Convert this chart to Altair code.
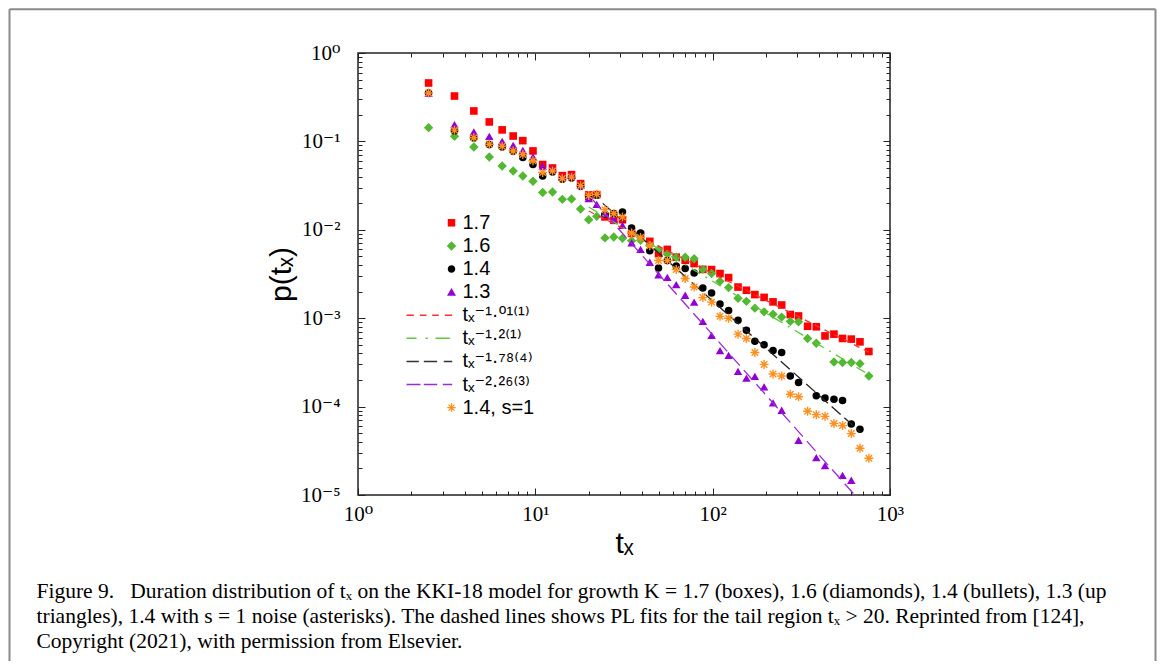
import math
import altair as alt
import pandas as pd

# ---------------- data ----------------
tx = [2.5, 3.5, 4.5, 5.5, 6.5, 7.5, 8.5, 9.7, 11, 12.5, 14.2, 16, 18, 20, 22.2, 24.7, 27.7,
      31, 34.9, 39.2, 44.2, 49.5, 55.5, 62.3, 70, 78.6, 88, 98.6, 110, 123, 139, 155, 173,
      195, 219, 245, 274, 305, 343, 384, 430, 483, 540, 605, 677, 760]

p_17 = [0.458, 0.326, 0.221, 0.166, 0.135, 0.115, 0.102, 0.078, 0.0547, 0.050,
        0.041, 0.0421, 0.0333, 0.0248, 0.0250, 0.0140, 0.0128, 0.0130, 0.0091, 0.0088,
        0.0074, 0.0054, 0.0060, 0.0049, 0.00452, 0.00415, 0.00357, 0.00355, 0.00320, 0.00288,
        0.00225, 0.00207, 0.00185, 0.00172, 0.00153, 0.00141, 0.00110, 0.00106, 0.00081, 0.00080,
        0.00063, 0.00066, 0.00059, 0.00058, 0.00054, 0.00042]

p_16 = [0.143, 0.114, 0.0865, 0.0666, 0.0527, 0.0462, 0.0406, 0.0354, 0.0264, 0.0268,
        0.0221, 0.0223, 0.0172, 0.0130, 0.0142, 0.0081, 0.0083, 0.0080, 0.0075, 0.0076,
        0.0067, 0.0060, 0.0053, 0.0049, 0.0049, 0.0047, 0.00357, 0.00320, 0.00261, 0.00222,
        0.00168, 0.00155, 0.00130, 0.00118, 0.00111, 0.00103, 0.00092, 0.00091, 0.00059, 0.00052,
        None, 0.00032, 0.000315, 0.000315, 0.000306, 0.000222]

p_14 = [0.353, 0.131, 0.109, 0.092, 0.0865, 0.0773, 0.0656, 0.0547, 0.0406, 0.0451,
        0.0373, 0.0385, 0.0310, 0.0231, 0.0246, 0.0150, 0.0153, 0.0159, 0.0105, 0.0092,
        0.0058, 0.0037, 0.0045, 0.0039, 0.00364, 0.00325, 0.00220, 0.00193, 0.00145, 0.00122,
        0.00095, 0.00073, 0.00055, 0.00050, 0.00043, 0.00041, 0.000222, 0.000187, None, 0.000133,
        0.000125, 0.000121, 0.000117, 0.0000636, 0.0000553, None]

p_13 = [0.353, 0.155, 0.128, 0.114, 0.100, 0.0903, 0.0793, 0.0667, 0.0523, 0.0492,
        0.0396, 0.0412, 0.0318, 0.0225, 0.0194, 0.0153, 0.0132, 0.0112, 0.0071, 0.0060,
        0.0043, 0.0031, 0.0029, 0.0024, 0.00182, 0.00152, 0.00092, 0.00064, 0.00043, 0.00038,
        0.00025, 0.00021, 0.00022, 0.000167, 0.000110, 0.000091, None, 0.0000416, None, 0.0000265,
        0.0000215, None, 0.0000167, 0.0000147, None, None]

p_14s = [0.353, 0.134, 0.110, 0.093, 0.088, 0.078, 0.071, 0.0604, 0.0444, 0.0463,
         0.0381, 0.0394, 0.0316, 0.0245, 0.0252, 0.0169, 0.0153, 0.0140, 0.0092, 0.0082,
         0.0066, 0.0045, 0.0045, 0.00355, 0.00281, 0.00225, 0.00171, 0.00152, 0.00105, 0.00100,
         0.00066, 0.00059, 0.00041, 0.00030, 0.000234, 0.000222, 0.000138, 0.000129, 0.0000885, 0.0000811,
         0.0000776, 0.0000643, 0.0000610, 0.0000495, 0.0000338, 0.0000260]

# power-law fit lines: end points
fit_red_x = [20, 760];  fit_red_y = [0.0163, 0.000413]
fit_grn_x = [20, 760];  fit_grn_y = [0.0181, 0.00023]
fit_blk_x = [24, 680];  fit_blk_y = [0.0199, 0.0000517]
fit_pur_x = [21, 632];  fit_pur_y = [0.022, 0.00001]

legend_entries = ["1.7", "1.6", "1.4", "1.3",
                  "t\u2093\u207b\u00b9\u00b7\u2070\u00b9\u207d\u00b9\u207e",
                  "t\u2093\u207b\u00b9\u00b7\u00b2\u207d\u00b9\u207e",
                  "t\u2093\u207b\u00b9\u00b7\u2077\u2078\u207d\u2074\u207e",
                  "t\u2093\u207b\u00b2\u00b7\u00b2\u2076\u207d\u00b3\u207e",
                  "1.4, s=1"]

x_major = [1, 10, 100, 1000]
x_major_text = ["10\u2070", "10\u00b9", "10\u00b2", "10\u00b3"]
x_minor = [2, 3, 4, 5, 6, 7, 8, 9, 20, 30, 40, 50, 60, 70, 80, 90, 200, 300, 400, 500, 600, 700, 800, 900]
y_major = [1, 0.1, 0.01, 0.001, 0.0001, 0.00001]
y_major_text = ["10\u2070", "10\u207b\u00b9", "10\u207b\u00b2", "10\u207b\u00b3", "10\u207b\u2074", "10\u207b\u2075"]
y_minor = [m * d for d in [0.00001, 0.0001, 0.001, 0.01, 0.1] for m in range(2, 10)]

caption_lines = [
    "Figure 9.\u2002 Duration distribution of t\u2093 on the KKI-18 model for growth K = 1.7 (boxes), 1.6 (diamonds), 1.4 (bullets), 1.3 (up",
    "triangles), 1.4 with s = 1 noise (asterisks). The dashed lines shows PL fits for the tail region t\u2093 > 20. Reprinted from [124],",
    "Copyright (2021), with permission from Elsevier.",
]

# ---------------- styling ----------------
W, H = 532, 442
RED, GRN, BLK, PUR, ORA = "#ff0000", "#52b831", "#000000", "#9400d3", "#ff9020"
SANS = "Liberation Sans, DejaVu Sans"
SERIF = "Liberation Serif, DejaVu Serif"

xs = alt.Scale(type="log", domain=[1, 1000], nice=False)
ys = alt.Scale(type="log", domain=[0.00001, 1], nice=False)


def series_df(vals):
    return pd.DataFrame([{"x": a, "y": b} for a, b in zip(tx, vals) if b is not None])


def pts(vals, **mk):
    return alt.Chart(series_df(vals)).mark_point(opacity=1, **mk).encode(
        x=alt.X("x:Q", scale=xs, axis=None), y=alt.Y("y:Q", scale=ys, axis=None))


def fit(xv, yv, color, dash):
    return alt.Chart(pd.DataFrame({"x": xv, "y": yv})).mark_line(
        color=color, strokeDash=dash, strokeWidth=1.3, clip=True).encode(
        x=alt.X("x:Q", scale=xs, axis=None), y=alt.Y("y:Q", scale=ys, axis=None))


AST_STROKE = "M-1,0L1,0M0,-1L0,1M-0.72,-0.72L0.72,0.72M-0.72,0.72L0.72,-0.72"

red = pts(p_17, shape="square", filled=True, size=58, color=RED, strokeWidth=0)
grn = pts(p_16, shape="diamond", filled=True, size=88, color=GRN, strokeWidth=0)
blk = pts(p_14, shape="circle", filled=True, size=57, color=BLK, strokeWidth=0)
pur = pts(p_13, shape="triangle-up", filled=True, size=72, color=PUR, strokeWidth=0)
ora = pts(p_14s, shape=AST_STROKE, filled=False, size=81, color=ORA, strokeWidth=1.4)

l_red = fit(fit_red_x, fit_red_y, "#ff3030", [6, 5])
l_grn = fit(fit_grn_x, fit_grn_y, "#5cc83a", [10, 6, 2, 6])
l_blk = fit(fit_blk_x, fit_blk_y, "#222222", [12, 5])
l_pur = fit(fit_pur_x, fit_pur_y, "#9a2bd6", [13, 6])


# ---------------- legend (built-in legend with custom symbol paths) ----------------
def bar(L, w, ang):
    c, s = math.cos(ang), math.sin(ang)
    p = [(x * c - y * s, x * s + y * c) for x, y in [(-L, -w), (L, -w), (L, w), (-L, w)]]
    return "M" + "L".join(f"{a:.3f},{b:.3f}" for a, b in p) + "Z"


def dashes(segs, w=0.15):
    return "".join(f"M{a},{-w}H{b}V{w}H{a}Z" for a, b in segs)


sym_paths = [
    "M-0.75,-0.75H0.75V0.75H-0.75Z",
    "M0,-0.95L0.95,0L0,0.95L-0.95,0Z",
    "M0.75,0A0.75,0.75,0,1,1,-0.75,0A0.75,0.75,0,1,1,0.75,0Z",
    "M0,-0.8L0.9,0.75L-0.9,0.75Z",
    dashes([(-9, -7.54), (-6.34, -5), (-3.86, -2.54), (-1.34, 0.14)]),
    dashes([(-9, -7), (-5.2, -4.74), (-3.2, -0.34)]),
    dashes([(-9, -6.54), (-5.54, -2.86), (-1.54, 0.14)]),
    dashes([(-9, -6.2), (-5.54, -2.86), (-1.74, 0.14)]),
    "".join(bar(0.85, 0.13, a) for a in [0, math.pi / 4, math.pi / 2, 3 * math.pi / 4]),
]
sym_colors = [RED, GRN, BLK, PUR, "#ff3030", "#5cc83a", "#333333", "#9a2bd6", ORA]

leg = alt.Legend(title=None, orient="none", legendX=83.5, legendY=159.8, direction="vertical",
                 symbolSize=100, symbolStrokeWidth=0, symbolOpacity=1, labelFont=SANS,
                 labelFontSize=20, labelColor="black", labelOffset=1, rowPadding=3.1,
                 padding=0, labelLimit=400)
# the legend-carrying marks themselves are clipped away (drawn outside the plot area)
legend_layer = alt.Chart(pd.DataFrame({"entry": legend_entries})).mark_point(
    filled=True, clip=True).encode(
    x=alt.value(-300), y=alt.value(-30),
    shape=alt.Shape("entry:N", scale=alt.Scale(domain=legend_entries, range=sym_paths), legend=leg),
    fill=alt.Fill("entry:N", scale=alt.Scale(domain=legend_entries, range=sym_colors), legend=leg),
)


# ---------------- axes ----------------
def lab_expr(vals, texts):
    parts = [f"abs(datum.value/{v} - 1) < 0.01 ? '{t}'" for v, t in zip(vals, texts)]
    return " : ".join(parts) + " : ''"


dummy = pd.DataFrame({"x": [10], "y": [0.01]})


def axis_layer(xaxis, yaxis):
    return alt.Chart(dummy).mark_point(opacity=0).encode(
        x=alt.X("x:Q", scale=xs, axis=xaxis), y=alt.Y("y:Q", scale=ys, axis=yaxis))


label_axes = axis_layer(
    alt.Axis(orient="bottom", values=x_major, labelExpr=lab_expr(x_major, x_major_text),
             ticks=False, tickSize=0, domain=False, grid=False, labelFont=SERIF, labelFontSize=21,
             labelColor="black", labelPadding=8, labelFlush=False, labelOverlap=False,
             title="t\u2093", titleFont=SANS, titleFontSize=30, titleFontWeight="normal",
             titleColor="black", titlePadding=4),
    alt.Axis(orient="left", values=y_major, labelExpr=lab_expr(y_major, y_major_text),
             ticks=False, tickSize=0, domain=False, grid=False, labelFont=SERIF, labelFontSize=21,
             labelColor="black", labelPadding=18, labelFlush=False, labelOverlap=False,
             title="p(t\u2093)", titleFont=SANS, titleFontSize=30, titleFontWeight="normal",
             titleColor="black", titlePadding=4),
)


def tick_axis(orient, offset, vals, size):
    return alt.Axis(orient=orient, offset=offset, values=vals, labels=False, domain=False,
                    grid=False, ticks=True, tickSize=size, tickColor="#222222", tickWidth=1,
                    title=None)


tick_layers = [
    axis_layer(tick_axis("top", -H, x_major, 7), tick_axis("right", -W, y_major, 7)),
    axis_layer(tick_axis("top", -H, x_minor, 4), tick_axis("right", -W, y_minor, 4)),
    axis_layer(tick_axis("bottom", -H, x_major, 7), tick_axis("left", -W, y_major, 7)),
    axis_layer(tick_axis("bottom", -H, x_minor, 4), tick_axis("left", -W, y_minor, 4)),
]

# ---------------- figure frame (grey border of the figure box) ----------------
one = pd.DataFrame({"k": [0]})
FR = "#8a8a8a"
frame_l = alt.Chart(one).mark_rule(color=FR, strokeWidth=2).encode(
    x=alt.value(-348.5), y=alt.value(-43.7), y2=alt.value(608))
frame_t = alt.Chart(one).mark_rule(color=FR, strokeWidth=2).encode(
    x=alt.value(-348.5), x2=alt.value(797.5), y=alt.value(-43.7))
frame_r = alt.Chart(one).mark_rule(color=FR, strokeWidth=2).encode(
    x=alt.value(797.5), y=alt.value(-43.7), y2=alt.value(608))

chart = alt.layer(
    red, grn, blk, pur, l_red, l_grn, l_blk, l_pur, ora,
    legend_layer, label_axes, *tick_layers, frame_l, frame_t, frame_r,
).resolve_axis(x="independent", y="independent").properties(
    width=W, height=H, padding=0,
    title=alt.TitleParams(
        text=caption_lines, orient="bottom", anchor="start", frame="group",
        dx=-321.5, offset=-81, font=SERIF, fontSize=21.5, fontWeight="normal", color="black",
        lineHeight=25),
).configure_view(stroke="#222222", strokeWidth=1.5).configure_axis(grid=False)

chart.save("out.html", embed_options={"renderer": "svg", "actions": False})
